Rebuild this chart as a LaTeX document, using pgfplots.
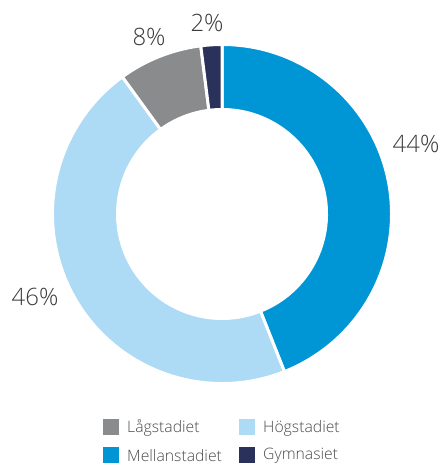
\documentclass[border=0pt]{standalone}
\usepackage{pgfplots}
\usepackage{pgfplotstable}
\pgfplotsset{compat=1.18}
\usepackage{fontspec}
\setmainfont{Open Sans Light}
\definecolor{cMel}{HTML}{0096D6}
\definecolor{cHog}{HTML}{ADDAF5}
\definecolor{cLag}{HTML}{8A8B8D}
\definecolor{cGym}{HTML}{2A315B}
\definecolor{txt}{HTML}{3A3A3A}
\definecolor{legtxt}{HTML}{4A4A4A}
\pgfplotstableread{
value col
44 cMel
46 cHog
8 cLag
2 cGym
}\slices
\begin{document}
\begin{tikzpicture}
\begin{axis}[x=1bp,y=1bp,xmin=0,xmax=443,ymin=0,ymax=466,hide axis,scale only axis,clip=false]
\path (axis cs:0,0) rectangle (axis cs:443,466);
\pgfplotstablegetrowsof{\slices}
\pgfmathtruncatemacro{\N}{\pgfplotsretval-1}
\def\cum{0}
\pgfplotsforeachungrouped \i in {0,...,\N}{%
  \pgfplotstablegetelem{\i}{value}\of{\slices}\let\v\pgfplotsretval
  \pgfplotstablegetelem{\i}{col}\of{\slices}\let\c\pgfplotsretval
  \pgfmathsetmacro{\aA}{90-3.6*\cum}%
  \pgfmathsetmacro{\aB}{90-3.6*(\cum+\v)}%
  \pgfmathsetmacro{\cum}{\cum+\v}%
  \pgfmathsetmacro{\xo}{222+169.5*cos(\aA)}%
  \pgfmathsetmacro{\yo}{252+169.5*sin(\aA)}%
  \pgfmathsetmacro{\xi}{222+104.5*cos(\aB)}%
  \pgfmathsetmacro{\yi}{252+104.5*sin(\aB)}%
  \edef\temp{\noexpand\filldraw[fill=\c, draw=white, line width=3bp, line join=miter]
    (axis cs:\xo,\yo) arc[start angle=\aA, end angle=\aB, radius=169.5bp]
    -- (axis cs:\xi,\yi) arc[start angle=\aB, end angle=\aA, radius=104.5bp] -- cycle;}%
  \temp
}
% percentage labels
\node[text=txt,font=\fontsize{24}{28}\selectfont] at (axis cs:416,322) {44\%};
\node[text=txt,font=\fontsize{24}{28}\selectfont] at (axis cs:35,169) {46\%};
\node[text=txt,font=\fontsize{24}{28}\selectfont] at (axis cs:149,429) {8\%};
\node[text=txt,font=\fontsize{24}{28}\selectfont] at (axis cs:207,443) {2\%};
% legend
\fill[cLag] (axis cs:103,31) rectangle (axis cs:119,47);
\fill[cMel] (axis cs:103,3) rectangle (axis cs:119,19);
\fill[cHog] (axis cs:239,31) rectangle (axis cs:255,47);
\fill[cGym] (axis cs:239,3) rectangle (axis cs:255,19);
\node[anchor=west,inner sep=0pt,text=legtxt,font=\fontsize{15.8}{18}\selectfont] at (axis cs:127,38) {Lågstadiet};
\node[anchor=west,inner sep=0pt,text=legtxt,font=\fontsize{15.8}{18}\selectfont] at (axis cs:127,10) {Mellanstadiet};
\node[anchor=west,inner sep=0pt,text=legtxt,font=\fontsize{15.8}{18}\selectfont] at (axis cs:263,38) {Högstadiet};
\node[anchor=west,inner sep=0pt,text=legtxt,font=\fontsize{15.8}{18}\selectfont] at (axis cs:263,10) {Gymnasiet};
\end{axis}
\end{tikzpicture}
\end{document}
